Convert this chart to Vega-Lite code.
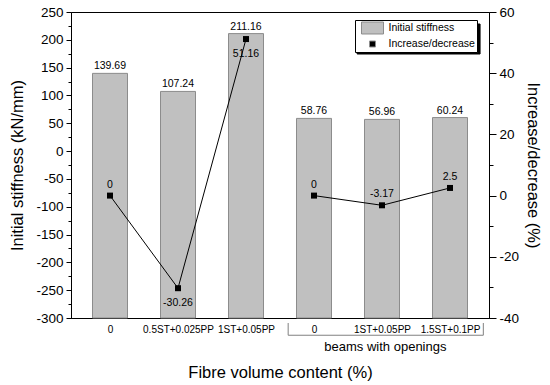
{
  "$schema": "https://vega.github.io/schema/vega-lite/v6.json",
  "width": 418,
  "height": 306,
  "autosize": {"type": "none"},
  "padding": {"left": 71, "top": 12, "right": 61, "bottom": 67},
  "config": {
    "font": "Liberation Sans",
    "locale": {"number": {"decimal": ".", "thousands": ",", "grouping": [3], "currency": ["$", ""], "minus": "-"}},
    "view": {"stroke": "black", "strokeWidth": 1},
    "axis": {"domainColor": "black", "tickColor": "black", "labelColor": "black", "titleColor": "black", "grid": false, "titleFontWeight": "normal"}
  },
  "data": {
    "values": [
      {"id": 1, "grp": "solid", "stiff": 139.69, "pct": 0},
      {"id": 2, "grp": "solid", "stiff": 107.24, "pct": -30.26},
      {"id": 3, "grp": "solid", "stiff": 211.16, "pct": 51.16},
      {"id": 4, "grp": "openings", "stiff": 58.76, "pct": 0},
      {"id": 5, "grp": "openings", "stiff": 56.96, "pct": -3.17},
      {"id": 6, "grp": "openings", "stiff": 60.24, "pct": 2.5}
    ]
  },
  "layer": [
    {
      "encoding": {
        "x": {
          "field": "id", "type": "quantitative",
          "scale": {"domain": [0.5, 6.5], "nice": false, "zero": false},
          "axis": {
            "values": [1, 2, 3, 4, 5, 6],
            "labelExpr": "['','0','0.5ST+0.025PP','1ST+0.05PP','0','1ST+0.05PP','1.5ST+0.1PP'][datum.value]",
            "ticks": false,
            "labelFontSize": 10,
            "labelPadding": 6,
            "labelFlush": false,
            "labelOverlap": false,
            "title": "Fibre volume content (%)",
            "titleFontSize": 16.5,
            "titlePadding": 30
          }
        },
        "y": {
          "field": "stiff", "type": "quantitative",
          "scale": {"domain": [-300, 250], "nice": false},
          "axis": {
            "values": [-300, -275, -250, -225, -200, -175, -150, -125, -100, -75, -50, -25, 0, 25, 50, 75, 100, 125, 150, 175, 200, 225, 250],
            "labelExpr": "datum.value % 50 === 0 ? datum.label : ''",
            "tickSize": {"condition": {"test": "datum.value % 50 !== 0", "value": 3}, "value": 5},
            "labelFontSize": 13.5,
            "labelPadding": 3,
            "title": "Initial stiffness (kN/mm)",
            "titleFontSize": 16.5,
            "titlePadding": 10
          }
        }
      },
      "layer": [
        {
          "mark": {"type": "bar", "width": 35, "stroke": "#8c8c8c", "strokeWidth": 1},
          "encoding": {
            "y2": {"datum": -300},
            "color": {
              "datum": "Initial stiffness",
              "type": "nominal",
              "scale": {"domain": ["Initial stiffness", "Increase/decrease"], "range": ["#c0c0c0", "#000000"]},
              "legend": {
                "title": null,
                "orient": "none",
                "legendX": 284,
                "legendY": 8,
                "fillColor": "white",
                "strokeColor": "black",
                "padding": 2,
                "labelFontSize": 10.5,
                "labelOffset": 10,
                "rowPadding": 2,
                "symbolSize": 121,
                "symbolOffset": 9.5,
                "symbolStrokeWidth": 1
              }
            }
          }
        },
        {
          "mark": {"type": "text", "dy": -7, "fontSize": 10.5, "color": "black"},
          "encoding": {
            "text": {"field": "stiff", "type": "quantitative", "format": ".2f"}
          }
        }
      ]
    },
    {
      "encoding": {
        "x": {"field": "id", "type": "quantitative"},
        "y": {
          "field": "pct", "type": "quantitative",
          "scale": {"domain": [-40, 60], "nice": false},
          "axis": {
            "orient": "right",
            "values": [-40, -30, -20, -10, 0, 10, 20, 30, 40, 50, 60],
            "labelExpr": "datum.value % 20 === 0 ? datum.label : ''",
            "tickSize": {"condition": {"test": "datum.value % 20 !== 0", "value": 4}, "value": 7},
            "labelFontSize": 13.5,
            "labelPadding": 3,
            "title": "Increase/decrease (%)",
            "titleFontSize": 16.5,
            "titlePadding": 6
          }
        }
      },
      "layer": [
        {
          "mark": {"type": "line", "color": "black", "strokeWidth": 1},
          "encoding": {"detail": {"field": "grp"}}
        },
        {
          "mark": {"type": "point", "filled": true, "size": 121, "opacity": 1},
          "encoding": {
            "color": {"datum": "Increase/decrease", "type": "nominal"},
            "shape": {
              "datum": "Increase/decrease",
              "type": "nominal",
              "scale": {"domain": ["Initial stiffness", "Increase/decrease"], "range": ["M-2,-1.09H2V1.09H-2Z", "M-0.545,-0.545H0.545V0.545H-0.545Z"]},
              "legend": {
                "title": null,
                "orient": "none",
                "legendX": 284,
                "legendY": 8,
                "fillColor": "white",
                "strokeColor": "black",
                "padding": 2,
                "labelFontSize": 10.5,
                "labelOffset": 10,
                "rowPadding": 2,
                "symbolSize": 121,
                "symbolOffset": 9.5,
                "symbolStrokeWidth": 1
              }
            }
          }
        },
        {
          "transform": [{"filter": "datum.pct > -20 && datum.pct < 40"}],
          "mark": {"type": "text", "dy": -11, "fontSize": 10.5, "color": "black"},
          "encoding": {"text": {"field": "pct", "type": "quantitative"}}
        },
        {
          "transform": [{"filter": "datum.pct <= -20 || datum.pct >= 40"}],
          "mark": {"type": "text", "dy": 15, "fontSize": 10.5, "color": "black"},
          "encoding": {"text": {"field": "pct", "type": "quantitative"}}
        }
      ]
    },
    {
      "data": {"values": [{"t": "beams with openings"}]},
      "encoding": {
        "y": {"type": "quantitative", "scale": {"domain": [-300, 250], "nice": false}, "axis": null}
      },
      "layer": [
        {
          "mark": {"type": "rect", "fill": "black", "stroke": "black"},
          "encoding": {"x": {"datum": 4.634}, "x2": {"datum": 6.442}, "y": {"datum": 228.4}, "y2": {"datum": 174.5}}
        },
        {
          "mark": {"type": "rule", "color": "#808080", "strokeWidth": 1},
          "encoding": {"x": {"datum": 3.62}, "x2": {"datum": 6.49}, "y": {"datum": -331}}
        },
        {
          "mark": {"type": "rule", "color": "#808080", "strokeWidth": 1},
          "encoding": {"x": {"datum": 3.62}, "y": {"datum": -309}, "y2": {"datum": -331}}
        },
        {
          "mark": {"type": "rule", "color": "#808080", "strokeWidth": 1},
          "encoding": {"x": {"datum": 6.49}, "y": {"datum": -309}, "y2": {"datum": -331}}
        },
        {
          "mark": {"type": "text", "fontSize": 13, "color": "black", "baseline": "middle"},
          "encoding": {"x": {"datum": 5.05}, "y": {"datum": -352}, "text": {"field": "t"}}
        }
      ]
    }
  ],
  "resolve": {"scale": {"y": "independent"}}
}
